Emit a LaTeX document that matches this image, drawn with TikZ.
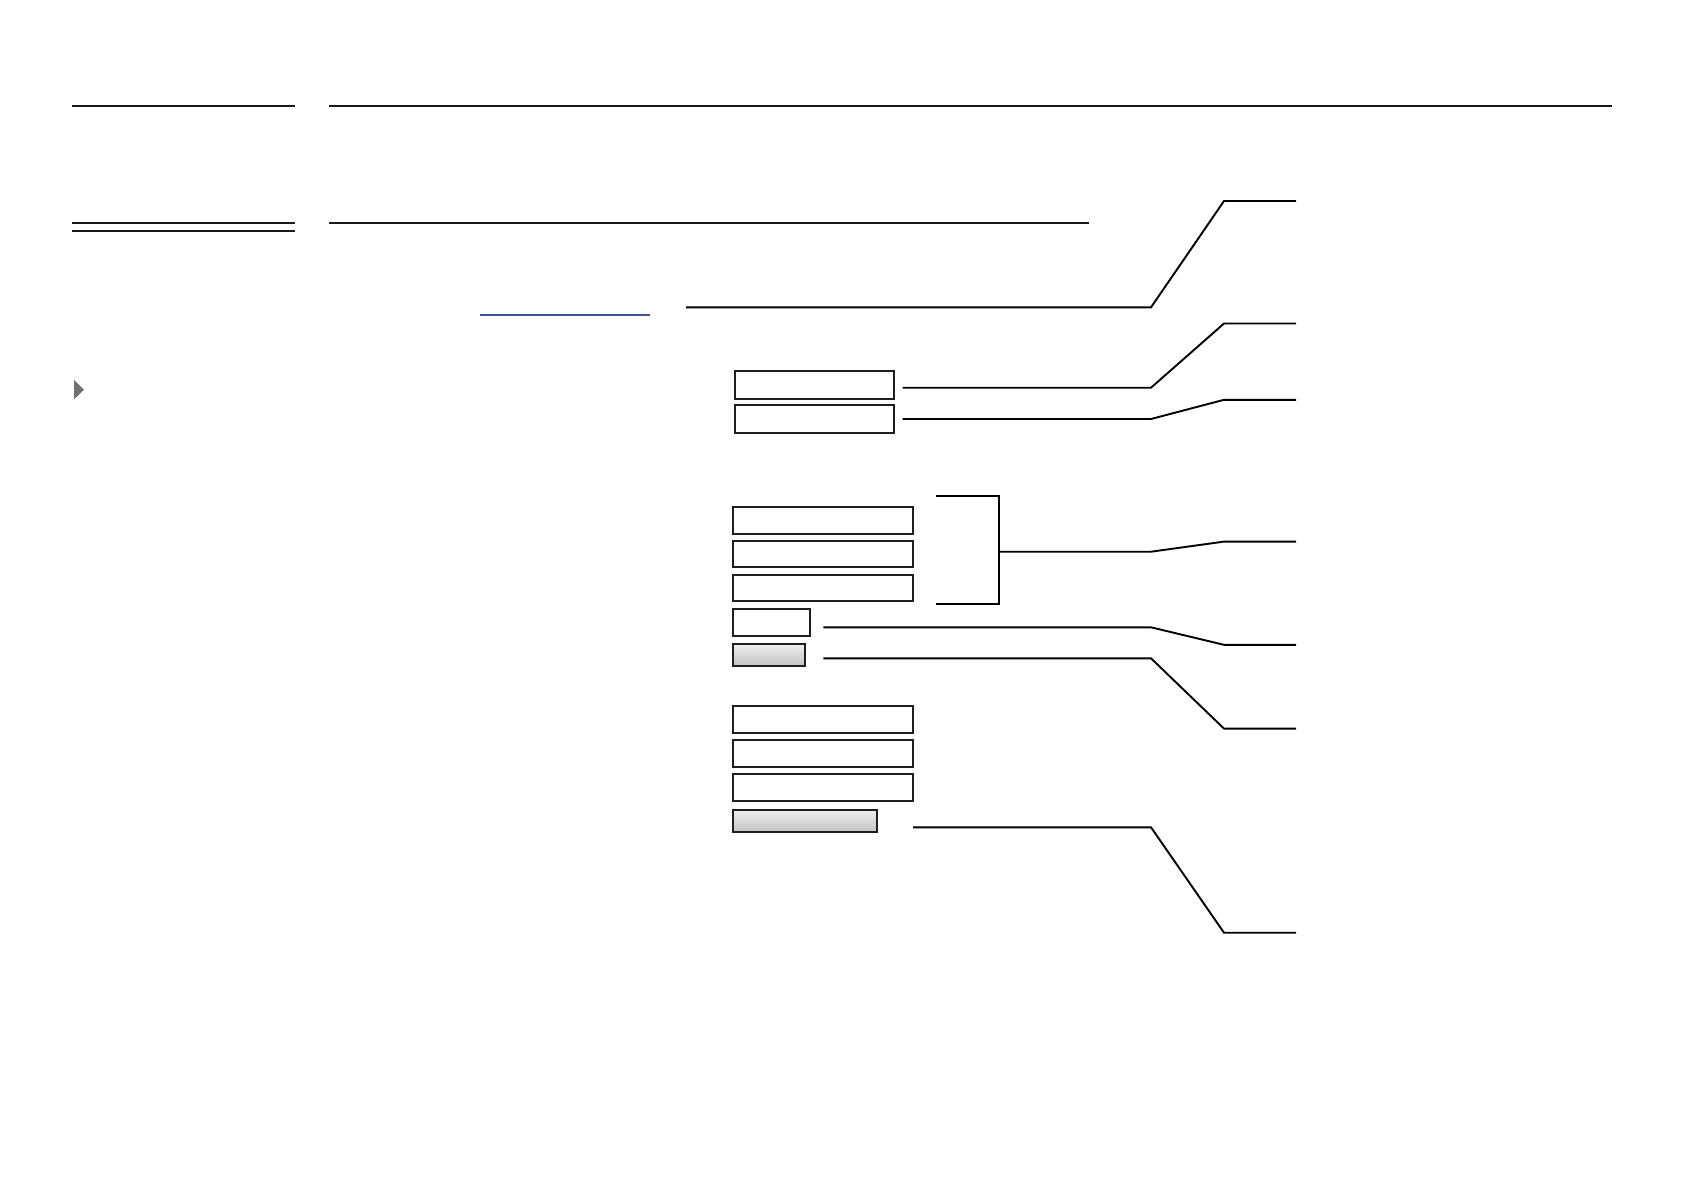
\documentclass[tikz,border=0pt]{standalone}
\usetikzlibrary{positioning}
\definecolor{linkblue}{HTML}{3F51A5}
\definecolor{arrowgray}{HTML}{707070}
\tikzset{
  rule/.style={line width=1.8pt, black!90},
  fieldbox/.style={draw=black!88, line width=2.2pt, rectangle, inner sep=0pt, outer sep=0pt, anchor=north west},
  btnbox/.style={fieldbox, top color=white!94!black, bottom color=black!24},
  leader/.style={line width=1.9pt, black},
}
\begin{document}
\begin{tikzpicture}[x=1pt,y=-1pt]
\useasboundingbox[fill=white] (0,0) rectangle (1685,1192);

% header rules
\draw[rule] (72,105.7) -- (295,105.7);
\draw[rule] (329,105.7) -- (1612,105.7);
\draw[rule] (72,222.7) -- (295,222.7);
\draw[rule] (72,230.7) -- (295,230.7);
\draw[rule] (329,222.7) -- (1089,222.7);

% link underline
\draw[linkblue, line width=2pt] (480,314.7) -- (650,314.7);

% disclosure triangle
\fill[arrowgray] (74,380) -- (84,389.7) -- (74,399.4) -- cycle;

% form fields
\node[fieldbox, minimum width=159pt, minimum height=28pt] (b1) at (735,371) {};
\node[fieldbox, minimum width=159pt, minimum height=28pt] (b2) at (735,404.7) {};

\node[fieldbox, minimum width=180.6pt, minimum height=27.3pt] (fa) at (732.7,506.7) {};
\node[fieldbox, minimum width=180.6pt, minimum height=26.6pt] (fb) at (732.7,540.7) {};
\node[fieldbox, minimum width=180.6pt, minimum height=26.3pt] (fc) at (732.7,574.7) {};
\node[fieldbox, minimum width=77.6pt, minimum height=27.3pt] (fd) at (732.7,608.7) {};
\node[btnbox, minimum width=72.6pt, minimum height=22.3pt] (fe) at (732.7,643.7) {};

\node[fieldbox, minimum width=180.6pt, minimum height=27.3pt] (ff) at (732.7,705.7) {};
\node[fieldbox, minimum width=180.6pt, minimum height=27.3pt] (fg) at (732.7,739.7) {};
\node[fieldbox, minimum width=180.6pt, minimum height=27.3pt] (fh) at (732.7,773.7) {};
\node[btnbox, minimum width=144.6pt, minimum height=22.6pt] (fi) at (732.7,809.7) {};

% bracket
\coordinate (brT) at (936,495.7);
\coordinate (brB) at (936,604);
\coordinate (brM) at (999,551.7);
\draw[leader, line width=2pt] (brT) -- (999,495.7) -- (999,604) -- (brB);

% leader coordinates
\coordinate (s0) at (686,307.3);
\coordinate (s1) at (902.7,387.7);
\coordinate (s2) at (902.7,419);
\coordinate (s4) at (823.3,627.3);
\coordinate (s5) at (823.3,658.3);
\coordinate (s6) at (913,827.3);

\coordinate (e0) at (1296,201);
\coordinate (e1) at (1296,323.5);
\coordinate (e2) at (1296,399.8);
\coordinate (e3) at (1296,541.6);
\coordinate (e4) at (1296,644.8);
\coordinate (e5) at (1296,728.6);
\coordinate (e6) at (1296,932.7);

% leaders
\draw[leader] (s0) -- (1151,307.3) -- (1224,201) -- (e0);
\draw[leader] (s1) -- (1151,387.7) -- (1224,323.5) -- (e1);
\draw[leader] (s2) -- (1151,419) -- (1224,399.8) -- (e2);
\draw[leader] (brM) -- (1151,551.7) -- (1224,541.6) -- (e3);
\draw[leader] (s4) -- (1151,627.3) -- (1224,644.8) -- (e4);
\draw[leader] (s5) -- (1151,658.3) -- (1224,728.6) -- (e5);
\draw[leader] (s6) -- (1151,827.3) -- (1224,932.7) -- (e6);
\end{tikzpicture}
\end{document}
